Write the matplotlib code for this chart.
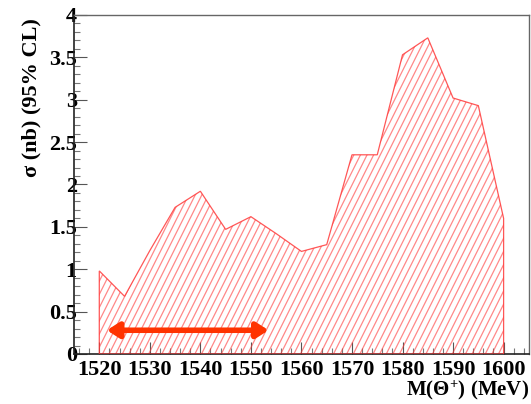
import numpy as np
import matplotlib
matplotlib.use("Agg")
import matplotlib.pyplot as plt
from matplotlib.patches import Polygon
from matplotlib.ticker import MultipleLocator

# Upper limit on the cross section vs. assumed Theta+ mass
mass = [1520, 1525, 1530, 1535, 1540, 1545, 1550, 1555, 1560, 1565,
        1570, 1575, 1580, 1585, 1590, 1595, 1600]
sigma_ul = [0.98, 0.68, 1.22, 1.73, 1.92, 1.47, 1.62, 1.42, 1.21, 1.29,
            2.35, 2.35, 3.53, 3.73, 3.02, 2.93, 1.60]
arrow_range = [1521.5, 1553.5]
arrow_y = 0.28
x_ticks = [1520, 1530, 1540, 1550, 1560, 1570, 1580, 1590, 1600]
y_ticks = [0, 0.5, 1, 1.5, 2, 2.5, 3, 3.5, 4]
y_tick_labels = ["0", "0.5", "1", "1.5", "2", "2.5", "3", "3.5", "4"]

plt.rcParams["font.family"] = ["Liberation Serif", "DejaVu Serif"]
plt.rcParams["font.weight"] = "bold"
plt.rcParams["mathtext.fontset"] = "custom"
plt.rcParams["mathtext.rm"] = "Liberation Serif:bold"
plt.rcParams["mathtext.it"] = "Liberation Serif:bold"
plt.rcParams["mathtext.bf"] = "Liberation Serif:bold"

fig = plt.figure(figsize=(5.31, 4.04), dpi=100)
ax = fig.add_axes([0.1394, 0.1238, 0.8566, 0.8392])
ax.set_xlim(1515, 1605)
ax.set_ylim(0, 4)

red = "#ff3a3a"
# closed outline of the limit curve down to zero
verts = [(mass[0], 0)] + list(zip(mass, sigma_ul)) + [(mass[-1], 0)]
poly = Polygon(verts, closed=True, facecolor="none", edgecolor=red,
               linewidth=0.9, alpha=0.85, zorder=3)
ax.add_patch(poly)

# steep diagonal hatching clipped to the outline
fig.canvas.draw()
x0, y0 = ax.transAxes.transform((0, 0))
x1, y1 = ax.transAxes.transform((1, 1))
h = y1 - y0
spacing = 6.6
slope = 2.0
inv = ax.transData.inverted()
start = x0 - h / slope
k = 0
while start + k * spacing < x1:
    xa = start + k * spacing
    p0 = inv.transform((xa, y0))
    p1 = inv.transform((xa + h / slope, y1))
    ln, = ax.plot([p0[0], p1[0]], [p0[1], p1[1]], color=red, lw=0.9,
                  zorder=2, alpha=0.6)
    ln.set_clip_path(poly)
    k += 1

ax.annotate("", xy=(arrow_range[0], arrow_y), xytext=(arrow_range[1], arrow_y),
            arrowprops=dict(arrowstyle="<|-|>,head_length=0.7,head_width=0.45",
                            color="#ff3300", lw=4, shrinkA=0, shrinkB=0),
            zorder=5)

ax.set_xticks(x_ticks)
ax.set_yticks(y_ticks)
ax.set_yticklabels(y_tick_labels)
ax.xaxis.set_minor_locator(MultipleLocator(2))
ax.yaxis.set_minor_locator(MultipleLocator(0.1))
ax.tick_params(which="both", direction="in", top=False, right=False,
               labelsize=16)
ax.tick_params(which="major", length=9, width=0.8, color="#555555")
ax.tick_params(which="minor", length=4.5, width=0.8, color="#777777")
ax.tick_params(axis="x", pad=4)
ax.tick_params(axis="y", pad=-2)
for lab in ax.get_xticklabels() + ax.get_yticklabels():
    lab.set_fontweight("bold")

for side in ["left", "bottom"]:
    ax.spines[side].set_color("#222222")
    ax.spines[side].set_linewidth(1.2)
for side in ["top", "right"]:
    ax.spines[side].set_color("#666666")
    ax.spines[side].set_linewidth(1.0)

ax.set_xlabel(r"M($\Theta^{+}$) (MeV)", fontsize=15, fontweight="bold",
              loc="right", labelpad=-1)
ax.set_ylabel("σ (nb) (95% CL)", fontsize=16, fontweight="bold", loc="top")
ax.yaxis.set_label_coords(-0.072, 0.99)

fig.savefig("out.png", dpi=100)
